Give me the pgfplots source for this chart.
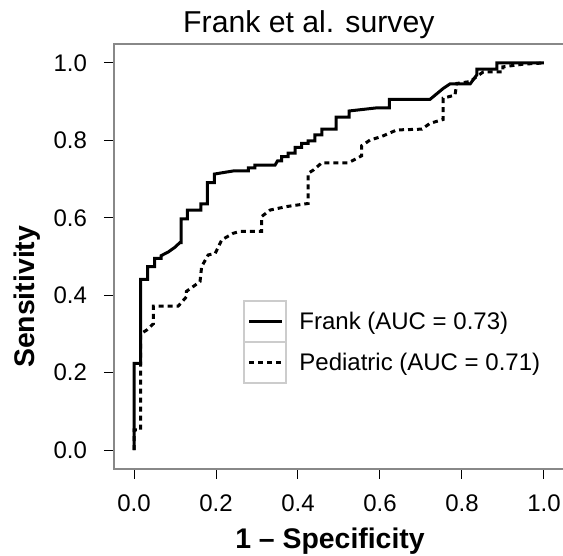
\documentclass[border=0pt]{standalone}
\usepackage{fontspec}
\setmainfont{Liberation Sans}
\usepackage{pgfplots}
\pgfplotsset{compat=1.18}
\definecolor{framegray}{RGB}{136,136,136}
\definecolor{leggray}{RGB}{204,204,204}
\begin{document}
\begin{tikzpicture}
\useasboundingbox (-57pt,-43.5pt) rectangle (224.5pt,234.5pt);
\begin{axis}[
  at={(0pt,0pt)}, anchor=south west,
  scale only axis, width=225pt, height=212.5pt,
  xmin=-0.0488, xmax=1.0488, ymin=-0.049, ymax=1.049,
  clip=false,
  axis line style={draw=none},
  xtick={0,0.2,0.4,0.6,0.8,1}, ytick={0,0.2,0.4,0.6,0.8,1},
  tick align=outside, xtick pos=bottom, ytick pos=left,
  major tick length=5pt,
  tick style={black, line width=0.5pt},
  /pgf/number format/fixed, /pgf/number format/fixed zerofill,
  /pgf/number format/precision=1, /pgf/number format/assume math mode=true,
  ticklabel style={font=\fontsize{12}{14}\selectfont},
  xticklabel style={yshift=-4.5pt},
  yticklabel style={xshift=-5pt},
  legend style={draw=none, fill=none, at={(rel axis cs:0.2867,0.3976)}, anchor=north west,
    inner sep=0pt, row sep=-1pt, column sep=6pt, nodes={inner sep=0pt},
    font=\fontsize{12}{14}\selectfont},
  legend cell align=left,
  legend image code/.code={
    \draw[solid, line width=1pt, draw=leggray] (0pt,-10.25pt) rectangle (21pt,10.25pt);
    \draw[#1] (2.5pt,0pt) -- (19pt,0pt);
  },
]
\addplot[black, line width=1.5pt, line join=miter] coordinates {
(0,0) (0,0.224) (0.016,0.224) (0.016,0.441) (0.033,0.441) (0.033,0.474) (0.050,0.474)
(0.050,0.495) (0.066,0.495) (0.066,0.502) (0.084,0.512) (0.100,0.524) (0.112,0.536)
(0.115,0.536) (0.115,0.597) (0.130,0.597) (0.130,0.620) (0.163,0.620) (0.163,0.636)
(0.179,0.636) (0.179,0.691) (0.196,0.691) (0.196,0.713) (0.242,0.721) (0.279,0.721)
(0.279,0.729) (0.295,0.729) (0.295,0.736) (0.344,0.736) (0.350,0.747) (0.360,0.747)
(0.360,0.758) (0.376,0.758) (0.376,0.767) (0.393,0.767) (0.393,0.782) (0.409,0.782)
(0.409,0.792) (0.425,0.792) (0.425,0.799) (0.441,0.799) (0.441,0.814) (0.458,0.814)
(0.458,0.829) (0.493,0.829) (0.493,0.860) (0.525,0.860) (0.525,0.876) (0.592,0.884)
(0.623,0.884) (0.623,0.906) (0.722,0.906) (0.754,0.934) (0.771,0.946) (0.820,0.946)
(0.836,0.969) (0.836,0.984) (0.885,0.984) (0.885,1) (1,1)
};
\addlegendentry{Frank (AUC = 0.73)}
\addplot[black, line width=1.5pt, dash pattern=on 2.5pt off 2pt] coordinates {
(0,0) (0,0.052) (0.016,0.052) (0.016,0.300) (0.031,0.310) (0.047,0.326) (0.047,0.372)
(0.108,0.372) (0.128,0.396) (0.128,0.410) (0.161,0.435) (0.165,0.474) (0.181,0.504)
(0.198,0.508) (0.214,0.543) (0.242,0.560) (0.259,0.565) (0.311,0.565) (0.311,0.603)
(0.332,0.620) (0.372,0.629) (0.425,0.637) (0.425,0.715) (0.437,0.723) (0.458,0.742)
(0.523,0.742) (0.555,0.760) (0.555,0.786) (0.576,0.801) (0.604,0.810) (0.641,0.827)
(0.702,0.829) (0.722,0.844) (0.754,0.854) (0.754,0.909) (0.783,0.917) (0.787,0.947)
(0.820,0.952) (0.836,0.965) (0.852,0.977) (0.900,0.977) (0.900,0.990) (0.950,0.997) (1,1)
};
\addlegendentry{Pediatric (AUC = 0.71)}
\draw[line width=1pt, draw=framegray] (rel axis cs:1,1) -- (rel axis cs:0,1) -- (rel axis cs:0,0) -- (rel axis cs:1,0);
\node[anchor=base, font=\fontsize{15.1}{18}\selectfont] at (rel axis cs:0.433,1.026) {Frank et al. survey};
\node[anchor=base, font=\bfseries\fontsize{14.2}{17}\selectfont] at (rel axis cs:0.48,-0.186) {1 – Specificity};
\node[anchor=base, rotate=90, font=\bfseries\fontsize{14.2}{17}\selectfont] at (rel axis cs:-0.176,0.405) {Sensitivity};
\end{axis}
\end{tikzpicture}
\end{document}
